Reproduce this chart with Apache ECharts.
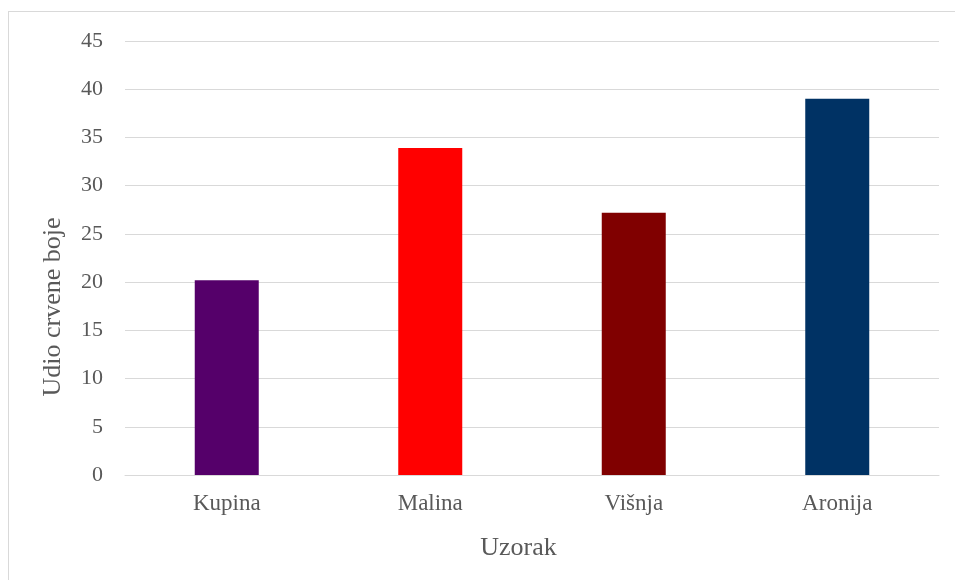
<!DOCTYPE html>
<html><head><meta charset="utf-8">
<script src="https://cdn.jsdelivr.net/npm/echarts@6/dist/echarts.min.js"></script>
<style>html,body{margin:0;padding:0;background:#fff}#c{width:955px;height:580px;position:relative}
#b{position:absolute;left:8px;top:11px;width:960px;height:600px;border:1px solid #d9d9d9;box-sizing:border-box;pointer-events:none}</style>
</head><body><div id="c"></div><div id="b"></div>
<script>
const categories = ['Kupina', 'Malina', 'Višnja', 'Aronija'];
const values = [20.2, 33.9, 27.2, 39.0];
const barColors = ['#55006a', '#ff0000', '#800000', '#003264'];
const yTicks = [0, 5, 10, 15, 20, 25, 30, 35, 40, 45];
const chart = echarts.init(document.getElementById('c'), null, {renderer: 'canvas'});
const font = '"Liberation Serif", "Times New Roman", serif';
chart.setOption({
  animation: false,
  grid: {left: 125, right: 16, top: 41, bottom: 105},
  xAxis: {
    type: 'category', data: categories,
    name: 'Uzorak', nameLocation: 'middle', nameGap: 60,
    nameTextStyle: {fontFamily: font, fontSize: 26, color: '#595959', padding: [0, 27, 0, 0]},
    axisLine: {show: true, lineStyle: {color: '#d9d9d9', width: 1}},
    axisTick: {show: false},
    axisLabel: {fontFamily: font, fontSize: 23, color: '#595959', margin: 17}
  },
  yAxis: {
    type: 'value', min: yTicks[0], max: yTicks[yTicks.length - 1], interval: 5,
    name: 'Udio crvene boje', nameLocation: 'middle', nameGap: 59,
    nameTextStyle: {fontFamily: font, fontSize: 26, color: '#595959', padding: [0, 98, 0, 0]},
    axisLine: {show: false}, axisTick: {show: false},
    axisLabel: {fontFamily: font, fontSize: 22, color: '#595959', margin: 22},
    splitLine: {lineStyle: {color: '#d9d9d9', width: 1}}
  },
  series: [{
    type: 'bar', barWidth: 64,
    data: values.map((v, i) => ({value: v, itemStyle: {color: barColors[i]}}))
  }]
});
</script></body></html>
